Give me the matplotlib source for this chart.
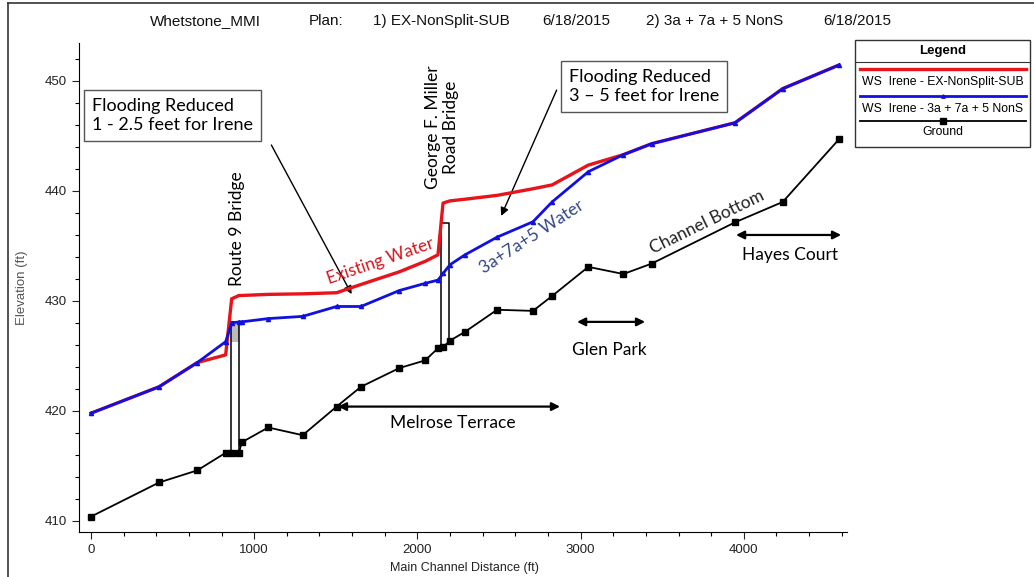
import matplotlib
matplotlib.use("Agg")
import matplotlib.pyplot as plt
from matplotlib.patches import Rectangle
from matplotlib.lines import Line2D
from matplotlib.ticker import MultipleLocator

# ---------------- data ----------------
stations = [0, 417, 651, 825, 862, 907, 923, 1086, 1297, 1505, 1654, 1889, 2047,
            2126, 2157, 2200, 2292, 2488, 2708, 2825, 3047, 3262, 3436, 3946, 4238, 4583]
ground = [410.4, 413.5, 414.6, 416.2, 416.2, 416.2, 417.15, 418.5, 417.8, 420.4, 422.2,
          423.9, 424.6, 425.7, 425.8, 426.4, 427.2, 429.2, 429.1, 430.45, 433.1, 432.45,
          433.4, 437.15, 439.0, 444.7]
ws_proposed = [419.8, 422.2, 424.4, 426.3, 428.0, 428.1, 428.1, 428.4, 428.6, 429.5, 429.5,
               430.95, 431.6, 431.9, 432.5, 433.3, 434.2, 435.8, 437.2, 439.0, 441.75, 443.3,
               444.3, 446.2, 449.3, 451.45]
ws_existing = [419.8, 422.2, 424.4, 425.1, 430.2, 430.5, 430.5, 430.6, 430.65, 430.75, 431.5,
               432.65, 433.6, 434.2, 438.9, 439.1, 439.25, 439.6, 440.2, 440.55, 442.35, 443.3,
               444.3, 446.2, 449.3, 451.45]

bridge_left = [856, 2143]
bridge_right = [907, 2194]
bridge_high = [428.1, 437.1]
bridge_low = [426.3, 437.1]
bridge_ground_left = [416.2, 425.8]
bridge_ground_right = [416.2, 426.4]

title_parts = ["Whetstone_MMI", "Plan:", "1) EX-NonSplit-SUB", "6/18/2015",
               "2) 3a + 7a + 5 NonS", "6/18/2015"]
legend_labels = ["WS  Irene - EX-NonSplit-SUB", "WS  Irene - 3a + 7a + 5 NonS", "Ground"]

# ---------------- figure ----------------
W, H = 1034, 577
fig = plt.figure(figsize=(W / 100, H / 100), dpi=100)
def fx(px): return px / W
def fy(py): return 1 - py / H

narrow = ['Liberation Sans Narrow', 'Liberation Sans', 'DejaVu Sans']
callout = ['Lato', 'DejaVu Sans']

ax = fig.add_axes([fx(79), fy(532), fx(847) - fx(79), fy(43) - fy(532)])
ax.set_xlim(-73.5, 4632)
ax.set_ylim(409.0, 453.45)
ax.spines['top'].set_visible(False)
ax.spines['right'].set_visible(False)
ax.xaxis.set_major_locator(MultipleLocator(1000))
ax.xaxis.set_minor_locator(MultipleLocator(200))
ax.yaxis.set_major_locator(MultipleLocator(10))
ax.yaxis.set_minor_locator(MultipleLocator(2))
ax.tick_params(which='major', length=5, width=0.8, labelsize=9.5, colors='#222222')
ax.tick_params(which='minor', length=3, width=0.8)
for lab in ax.get_xticklabels() + ax.get_yticklabels():
    lab.set_family(narrow)
fig.text(fx(464), fy(568), "Main Channel Distance (ft)", family=narrow, fontsize=9,
         ha='center', va='center', color='#222222')
ax.set_ylabel("Elevation (ft)", family=['Liberation Sans', 'DejaVu Sans'], fontsize=9.5,
              labelpad=12, color='#555555')

# bridges
for i in range(len(bridge_left)):
    ax.fill_between([bridge_left[i], bridge_right[i]], bridge_low[i], bridge_high[i],
                    color='#bbbbbb', zorder=2, lw=0)
    ax.plot([bridge_left[i], bridge_left[i], bridge_right[i], bridge_right[i]],
            [bridge_ground_left[i], bridge_high[i], bridge_high[i], bridge_ground_right[i]],
            color='black', lw=1.1, zorder=3)

ax.plot(stations, ground, color='black', lw=1.3, marker='s', markersize=4.5, zorder=4)
ax.plot(stations, ws_existing, color='#e8131b', lw=2.4, zorder=5)
ax.plot(stations, ws_proposed, color='#1010e0', lw=2.0, marker='^', markersize=3, zorder=6)

# callouts
box = dict(boxstyle='square,pad=0.45', fc='white', ec='#555555', lw=1)
ax.text(8, 446.85, "Flooding Reduced\n1 - 2.5 feet for Irene", family=callout, fontsize=13,
        va='center', ha='left', bbox=box, linespacing=1.2, zorder=7)
ax.text(2929, 449.5, "Flooding Reduced\n3 \u2013 5 feet for Irene", family=callout, fontsize=13,
        va='center', ha='left', bbox=box, linespacing=1.2, zorder=7)
ax.annotate("", xy=(1605, 430.4), xytext=(1097, 444.4),
            arrowprops=dict(arrowstyle='-|>', color='black', lw=1.0, mutation_scale=12))
ax.annotate("", xy=(2506, 437.5), xytext=(2860, 449.4),
            arrowprops=dict(arrowstyle='-|>', color='black', lw=1.0, mutation_scale=12))

ax.text(892, 436.6, "Route 9 Bridge", family=callout, fontsize=12.5, rotation=90,
        ha='center', va='center')
ax.text(2150, 445.8, "George F. Miller\nRoad Bridge", family=callout, fontsize=12.5, rotation=90,
        ha='center', va='center', linespacing=1.1)
ax.text(1771, 433.6, "Existing Water", family=callout, fontsize=12.5, rotation=19,
        ha='center', va='center', color='#d8141c', rotation_mode='anchor')
ax.text(2700, 435.8, "3a+7a+5 Water", family=callout, fontsize=12.5, rotation=33,
        ha='center', va='center', color='#34468a', rotation_mode='anchor')
ax.text(3775, 437.2, "Channel Bottom", family=callout, fontsize=12.5, rotation=26,
        ha='center', va='center', color='#222222', rotation_mode='anchor')

dbl = dict(arrowstyle='<|-|>', color='black', lw=1.6, mutation_scale=12, shrinkA=0, shrinkB=0)
ax.annotate("", xy=(1513, 420.4), xytext=(2874, 420.4), arrowprops=dbl)
ax.text(2218, 418.9, "Melrose Terrace", family=callout, fontsize=12.5, ha='center', va='center')
ax.annotate("", xy=(2978, 428.1), xytext=(3395, 428.1), arrowprops=dbl)
ax.text(3174, 425.5, "Glen Park", family=callout, fontsize=12.5, ha='center', va='center')
ax.annotate("", xy=(3952, 436.0), xytext=(4596, 436.0), arrowprops=dbl)
ax.text(4283, 434.2, "Hayes Court", family=callout, fontsize=12.5, ha='center', va='center')

# title
title_x = [150, 309, 373, 542, 646, 823]
for t, x in zip(title_parts, title_x):
    fig.text(fx(x), fy(21), t, family=narrow, fontsize=11, ha='left', va='center', color='#111111')

# outer frame (left & top)
fig.add_artist(Line2D([fx(8), fx(8)], [fy(3), fy(577)], color='#333333', lw=1.2, transform=fig.transFigure))
fig.add_artist(Line2D([fx(8), fx(1034)], [fy(3), fy(3)], color='#333333', lw=1.2, transform=fig.transFigure))

# legend box
lx0, lx1, ly0, ly1 = 855, 1030, 40, 147
fig.add_artist(Rectangle((fx(lx0), fy(ly1)), fx(lx1) - fx(lx0), fy(ly0) - fy(ly1),
                         transform=fig.transFigure, fc='white', ec='#333333', lw=1))
fig.text(fx((lx0 + lx1) / 2), fy(51), "Legend", family=narrow, fontsize=9.5, weight='bold',
         ha='center', va='center')
fig.add_artist(Line2D([fx(lx0), fx(lx1)], [fy(62), fy(62)], color='#333333', lw=0.8,
                      transform=fig.transFigure))
leg_style = [dict(color='#e8131b', lw=2.4),
             dict(color='#1010e0', lw=2.0, marker='^', markersize=2.5),
             dict(color='black', lw=1.3, marker='s', markersize=4.5)]
line_y = [69, 96, 121]
text_y = [82, 109, 132]
for sty, lbl, ly, ty in zip(leg_style, legend_labels, line_y, text_y):
    fig.add_artist(Line2D([fx(860), fx((860 + 1026) / 2), fx(1026)], [fy(ly)] * 3,
                          markevery=[1], transform=fig.transFigure, **sty))
    fig.text(fx((lx0 + lx1) / 2), fy(ty), lbl, family=narrow, fontsize=8.8,
             ha='center', va='center')

fig.savefig("out.png", dpi=100, facecolor='white')
